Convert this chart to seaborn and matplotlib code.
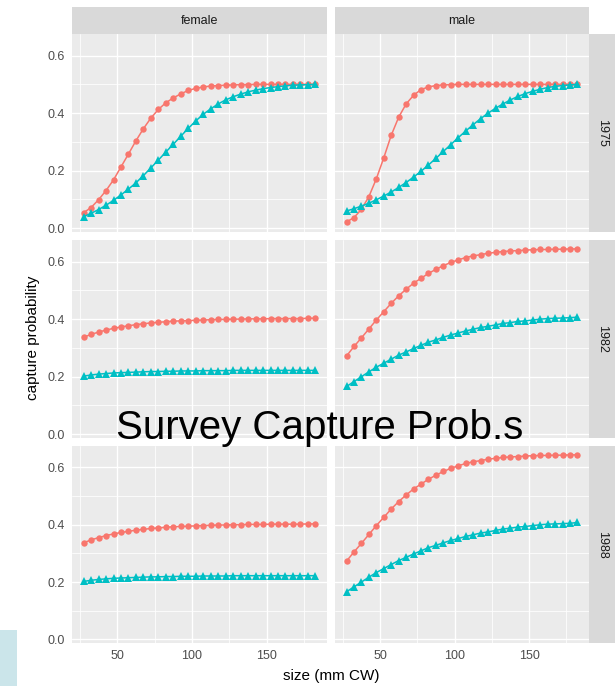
import numpy as np
import pandas as pd
import matplotlib
matplotlib.use("Agg")
import matplotlib.pyplot as plt
from matplotlib.patches import Rectangle
import seaborn as sns

sns.set_theme(style="white")
plt.rcParams['font.family'] = ['Liberation Sans', 'DejaVu Sans']

# ---------------- data ----------------
sizes = [27.5, 32.5, 37.5, 42.5, 47.5, 52.5, 57.5, 62.5, 67.5, 72.5, 77.5, 82.5,
         87.5, 92.5, 97.5, 102.5, 107.5, 112.5, 117.5, 122.5, 127.5, 132.5, 137.5,
         142.5, 147.5, 152.5, 157.5, 162.5, 167.5, 172.5, 177.5, 182.5]

sexes = ["female", "male"]
years = ["1975", "1982", "1988"]
series_names = ["survey 1", "survey 2"]

f1975_s1 = [0.054, 0.072, 0.099, 0.131, 0.168, 0.213, 0.258, 0.304, 0.346, 0.383, 0.413, 0.436,
            0.453, 0.467, 0.479, 0.486, 0.491, 0.494, 0.496, 0.497, 0.498, 0.499, 0.499, 0.500,
            0.500, 0.500, 0.500, 0.500, 0.500, 0.500, 0.500, 0.500]
f1975_s2 = [0.040, 0.052, 0.065, 0.080, 0.097, 0.116, 0.136, 0.158, 0.183, 0.210, 0.237, 0.265,
            0.292, 0.320, 0.347, 0.373, 0.396, 0.415, 0.432, 0.446, 0.457, 0.466, 0.474, 0.480,
            0.485, 0.489, 0.492, 0.495, 0.497, 0.498, 0.499, 0.500]
m1975_s1 = [0.022, 0.037, 0.066, 0.110, 0.172, 0.245, 0.323, 0.386, 0.432, 0.462, 0.482, 0.491,
            0.496, 0.498, 0.499, 0.500, 0.500, 0.500, 0.500, 0.500, 0.500, 0.500, 0.500, 0.500,
            0.500, 0.500, 0.500, 0.500, 0.500, 0.500, 0.500, 0.500]
m1975_s2 = [0.060, 0.068, 0.077, 0.087, 0.099, 0.112, 0.126, 0.142, 0.159, 0.178, 0.198, 0.220,
            0.243, 0.267, 0.291, 0.315, 0.338, 0.360, 0.381, 0.400, 0.417, 0.432, 0.446, 0.458,
            0.468, 0.476, 0.483, 0.489, 0.493, 0.496, 0.498, 0.500]

f1982_s1 = [0.337, 0.347, 0.355, 0.362, 0.368, 0.373, 0.377, 0.381, 0.384, 0.387, 0.389, 0.391,
            0.393, 0.394, 0.395, 0.396, 0.397, 0.398, 0.399, 0.399, 0.400, 0.400, 0.401, 0.401,
            0.401, 0.402, 0.402, 0.402, 0.402, 0.402, 0.403, 0.403]
f1982_s2 = [0.202, 0.206, 0.209, 0.211, 0.213, 0.214, 0.215, 0.216, 0.217, 0.218, 0.218, 0.219,
            0.219, 0.220, 0.220, 0.220, 0.221, 0.221, 0.221, 0.221, 0.222, 0.222, 0.222, 0.222,
            0.222, 0.222, 0.222, 0.222, 0.222, 0.222, 0.222, 0.222]
m1982_s1 = [0.272, 0.305, 0.335, 0.366, 0.397, 0.426, 0.455, 0.481, 0.504, 0.525, 0.542, 0.559,
            0.573, 0.586, 0.597, 0.606, 0.614, 0.620, 0.624, 0.629, 0.632, 0.635, 0.637, 0.638,
            0.640, 0.641, 0.642, 0.642, 0.643, 0.643, 0.644, 0.644]
m1982_s2 = [0.166, 0.183, 0.200, 0.217, 0.233, 0.247, 0.261, 0.275, 0.286, 0.298, 0.309, 0.320,
            0.328, 0.337, 0.345, 0.352, 0.359, 0.365, 0.371, 0.375, 0.380, 0.385, 0.388, 0.392,
            0.394, 0.397, 0.400, 0.402, 0.403, 0.404, 0.405, 0.407]

f1988_s1 = [0.337, 0.347, 0.355, 0.362, 0.368, 0.373, 0.377, 0.381, 0.384, 0.387, 0.389, 0.391,
            0.393, 0.394, 0.395, 0.396, 0.397, 0.398, 0.399, 0.399, 0.400, 0.400, 0.401, 0.401,
            0.401, 0.402, 0.402, 0.402, 0.402, 0.402, 0.403, 0.403]
f1988_s2 = [0.202, 0.206, 0.209, 0.211, 0.213, 0.214, 0.215, 0.216, 0.217, 0.218, 0.218, 0.219,
            0.219, 0.220, 0.220, 0.220, 0.221, 0.221, 0.221, 0.221, 0.222, 0.222, 0.222, 0.222,
            0.222, 0.222, 0.222, 0.222, 0.222, 0.222, 0.222, 0.222]
m1988_s1 = [0.273, 0.305, 0.335, 0.366, 0.397, 0.426, 0.455, 0.481, 0.504, 0.525, 0.542, 0.559,
            0.573, 0.586, 0.597, 0.606, 0.614, 0.620, 0.624, 0.629, 0.632, 0.635, 0.637, 0.638,
            0.640, 0.641, 0.642, 0.642, 0.643, 0.643, 0.644, 0.644]
m1988_s2 = [0.166, 0.183, 0.200, 0.217, 0.233, 0.247, 0.261, 0.275, 0.286, 0.298, 0.309, 0.320,
            0.328, 0.337, 0.345, 0.352, 0.359, 0.365, 0.371, 0.375, 0.380, 0.385, 0.388, 0.392,
            0.394, 0.397, 0.400, 0.402, 0.403, 0.404, 0.405, 0.408]

x_ticks = [50, 100, 150]
y_ticks = [0.0, 0.2, 0.4, 0.6]
y_tick_labels = ["0.0", "0.2", "0.4", "0.6"]

panel_data = {
    ("1975", "female"): (f1975_s1, f1975_s2),
    ("1975", "male"): (m1975_s1, m1975_s2),
    ("1982", "female"): (f1982_s1, f1982_s2),
    ("1982", "male"): (m1982_s1, m1982_s2),
    ("1988", "female"): (f1988_s1, f1988_s2),
    ("1988", "male"): (m1988_s1, m1988_s2),
}

rows = []
for (yr, sx), (s1, s2) in panel_data.items():
    for name, vals in zip(series_names, (s1, s2)):
        for s, v in zip(sizes, vals):
            rows.append({"year": yr, "sex": sx, "series": name, "size": s, "p": v})
df = pd.DataFrame(rows)

# ---------------- layout (pixels) ----------------
W, H = 615, 686
fig = plt.figure(figsize=(W / 100, H / 100), dpi=100)

col_x = [(72, 327), (335, 589)]
row_y = [(34, 232), (240, 438), (446, 643)]
strip_top = (7, 34)
strip_right = (589, 615)

def fig_rect(x0, x1, y0, y1):
    return [x0 / W, 1 - y1 / H, (x1 - x0) / W, (y1 - y0) / H]

colors = {"survey 1": "#F8766D", "survey 2": "#00BFC4"}
markers = {"survey 1": "o", "survey 2": "^"}
msizes = {"survey 1": 4.6, "survey 2": 5.6}

for r, yr in enumerate(years):
    for c, sx in enumerate(sexes):
        ax = fig.add_axes(fig_rect(col_x[c][0], col_x[c][1], row_y[r][0], row_y[r][1]))
        ax.set_facecolor("#EBEBEB")
        for sp in ax.spines.values():
            sp.set_visible(False)
        ax.set_xlim(19.75, 190.25)
        ax.set_ylim(-0.013, 0.675)
        # grid
        for gx in [25, 75, 125, 175]:
            ax.axvline(gx, color="white", lw=0.55, zorder=0.5)
        for gy in [0.1, 0.3, 0.5]:
            ax.axhline(gy, color="white", lw=0.55, zorder=0.5)
        for gx in x_ticks:
            ax.axvline(gx, color="white", lw=1.0, zorder=0.6)
        for gy in y_ticks:
            ax.axhline(gy, color="white", lw=1.0, zorder=0.6)

        for name in series_names:
            sub = df[(df["year"] == yr) & (df["sex"] == sx) & (df["series"] == name)]
            sns.lineplot(data=sub, x="size", y="p", color=colors[name],
                         marker=markers[name], ax=ax, legend=False,
                         errorbar=None, sort=False, markersize=msizes[name],
                         markeredgewidth=0, linewidth=1.1, zorder=3)

        ax.set_xlabel("")
        ax.set_ylabel("")
        ax.set_xticks(x_ticks)
        ax.set_yticks(y_ticks)
        ax.tick_params(axis="both", which="both", length=0)
        if c == 0:
            ax.set_yticklabels(y_tick_labels)
            ax.tick_params(axis="y", length=3.2, width=0.8, color="#333333",
                           labelcolor="#4D4D4D", labelsize=9, pad=2)
        else:
            ax.set_yticklabels([])
        if r == 2:
            ax.set_xticklabels([str(t) for t in x_ticks])
            ax.tick_params(axis="x", length=3.2, width=0.8, color="#333333",
                           labelcolor="#4D4D4D", labelsize=9, pad=2)
        else:
            ax.set_xticklabels([])

# top strips
for c, sx in enumerate(sexes):
    sax = fig.add_axes(fig_rect(col_x[c][0], col_x[c][1], strip_top[0], strip_top[1]))
    sax.set_facecolor("#D9D9D9")
    sax.set_xticks([]); sax.set_yticks([])
    for sp in sax.spines.values():
        sp.set_visible(False)
    sax.text(0.5, 0.5, sx, ha="center", va="center", fontsize=9, color="#1A1A1A",
             transform=sax.transAxes)

# right strips
for r, yr in enumerate(years):
    sax = fig.add_axes(fig_rect(strip_right[0], strip_right[1], row_y[r][0], row_y[r][1]))
    sax.set_facecolor("#D9D9D9")
    sax.set_xticks([]); sax.set_yticks([])
    for sp in sax.spines.values():
        sp.set_visible(False)
    sax.text(0.5, 0.5, yr, ha="center", va="center", fontsize=9, color="#1A1A1A",
             rotation=-90, transform=sax.transAxes)

# axis titles
fig.text(331 / W, 1 - 676 / H, "size (mm CW)", ha="center", va="center",
         fontsize=11, color="black")
fig.text(33 / W, 1 - 338 / H, "capture probability", ha="center", va="center",
         fontsize=11, color="black", rotation=90)

# overlay title
fig.text(320 / W, 1 - 439 / H, "Survey Capture Prob.s", ha="center", va="baseline",
         fontsize=29, color="black", zorder=10,
         family=["Liberation Sans Narrow", "Liberation Sans", "DejaVu Sans"])

# light blue box at bottom-left
fig.patches.append(Rectangle((0, 0), 17 / W, 56 / H, transform=fig.transFigure,
                             facecolor="#CBE5EA", edgecolor="none", zorder=0))

fig.savefig("out.png", dpi=100)
